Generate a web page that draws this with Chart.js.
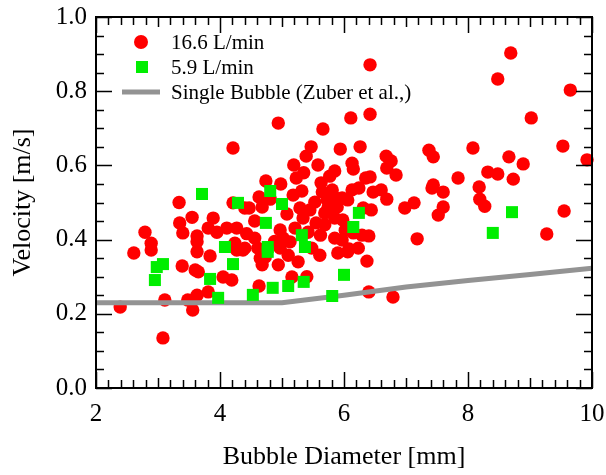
<!DOCTYPE html>
<html>
<head>
<meta charset="utf-8">
<script src="https://cdn.jsdelivr.net/npm/chart.js@4"></script>
<style>
  html, body { margin: 0; padding: 0; background: #fff; }
  #wrap { width: 606px; height: 475px; }
</style>
</head>
<body>
<div id="wrap"><canvas id="chart" width="606" height="475"></canvas></div>
<script>
// 16.6 L/min (red circles)
const redD = [2.39, 3.08, 2.61, 2.79, 2.89, 2.89, 3.34, 3.35, 3.40, 3.39, 3.55, 3.63, 3.63, 3.63, 3.60, 3.65,
  3.56, 3.11, 3.48, 3.63, 3.81, 3.84, 3.89, 3.81, 3.95, 4.11, 4.05, 4.19, 4.27, 4.24, 4.27, 4.37, 4.43,
  4.21, 4.21, 4.40, 4.47, 4.56, 4.56, 4.61, 4.65, 4.68, 4.63, 4.40, 4.73,
  4.94, 5.66, 6.11, 6.42, 5.47, 5.94, 6.26, 5.39, 5.19, 5.58, 6.13, 6.15, 5.85, 5.35, 5.23, 5.77,
  4.74, 4.98, 5.63, 6.35, 5.32, 5.65, 5.81, 6.13, 6.24, 4.63, 4.81, 4.68, 5.53, 5.73, 5.84, 5.97,
  6.06, 5.29, 5.45, 5.74, 5.89, 6.31, 5.08, 5.69,
  4.97, 5.02, 5.13, 4.94, 5.10, 5.26, 5.21, 5.42, 5.48, 5.61, 5.69, 5.85, 5.97, 5.90, 6.06, 6.23,
  5.85, 5.98, 5.16, 4.97, 5.34, 6.29, 5.40, 5.55, 5.62, 6.02, 5.18, 4.88,
  6.15, 6.40, 6.08, 6.37, 6.40, 6.79, 7.18, 6.44, 6.98, 7.52, 8.19, 8.27, 9.55, 9.27, 6.42, 8.69,
  8.48, 9.65, 9.02, 9.53, 9.92, 8.66, 8.89, 8.48, 8.73, 7.37, 7.44, 8.08, 6.68, 6.76, 6.69, 6.84,
  6.42, 8.32, 7.84, 7.44, 7.42, 7.60, 8.18, 6.47, 6.60, 6.69, 7.13, 7.60];
const redV = [0.218, 0.135, 0.364, 0.420, 0.390, 0.372, 0.500, 0.445, 0.418, 0.329, 0.460, 0.410, 0.394, 0.367, 0.318, 0.313,
  0.210, 0.237, 0.237, 0.250, 0.259, 0.356, 0.458, 0.431, 0.420, 0.431, 0.299, 0.291, 0.431, 0.390, 0.372, 0.372, 0.416,
  0.647, 0.499, 0.485, 0.485, 0.450, 0.404, 0.377, 0.350, 0.332, 0.275, 0.377, 0.353,
  0.714, 0.698, 0.728, 0.738, 0.650, 0.644, 0.650, 0.625, 0.601, 0.601, 0.606, 0.590, 0.585, 0.580, 0.566, 0.571,
  0.558, 0.550, 0.553, 0.566, 0.531, 0.528, 0.534, 0.534, 0.539, 0.515, 0.509, 0.488, 0.501, 0.507, 0.515, 0.512,
  0.507, 0.485, 0.480, 0.485, 0.488, 0.485, 0.469, 0.472,
  0.426, 0.404, 0.394, 0.332, 0.358, 0.340, 0.431, 0.420, 0.377, 0.358, 0.440, 0.404, 0.399, 0.364, 0.367, 0.377,
  0.458, 0.453, 0.299, 0.377, 0.458, 0.412, 0.300, 0.445, 0.412, 0.425, 0.520, 0.395,
  0.418, 0.410, 0.375, 0.342, 0.259, 0.245, 0.402, 0.480, 0.485, 0.466, 0.509, 0.490, 0.477, 0.415, 0.871, 0.903,
  0.833, 0.803, 0.728, 0.652, 0.615, 0.623, 0.604, 0.577, 0.563, 0.641, 0.623, 0.647, 0.625, 0.612, 0.593, 0.574,
  0.569, 0.582, 0.566, 0.547, 0.539, 0.528, 0.542, 0.528, 0.534, 0.509, 0.499, 0.488];

// 5.9 L/min (green squares)
const greenD = [3.71, 4.29, 4.81, 5.00, 4.74, 4.08, 4.21, 4.77, 4.77, 5.32, 5.37, 2.98, 3.08, 2.95, 3.84, 3.97,
  4.53, 4.85, 5.10, 5.35, 5.81, 6.00, 6.24, 6.15, 8.40, 8.71];
const greenV = [0.523, 0.499, 0.531, 0.496, 0.445, 0.380, 0.334, 0.380, 0.367, 0.412, 0.380, 0.326, 0.334, 0.291, 0.294, 0.243,
  0.251, 0.270, 0.275, 0.286, 0.248, 0.305, 0.472, 0.434, 0.418, 0.474];

// Single bubble (Zuber et al.)
const zuberD = [2, 5, 6, 7, 8, 9, 10];
const zuberV = [0.23, 0.23, 0.25, 0.272, 0.29, 0.306, 0.323];

const xTicks = [2, 4, 6, 8, 10];
const yTicks = [0.0, 0.2, 0.4, 0.6, 0.8, 1.0];

const pts = (xs, ys) => xs.map((x, i) => ({ x: x, y: ys[i] }));

const SERIF = "'Liberation Serif', 'Times New Roman', serif";
Chart.defaults.font.family = SERIF;
Chart.defaults.color = '#000';

const RED = '#ff0000';
const GREEN = '#00ee00';
const GRAY = '#939393';

// frame, inward ticks on all sides, and the in-plot legend
const framePlugin = {
  id: 'frame',
  afterDraw(chart) {
    const ctx = chart.ctx;
    const a = chart.chartArea;
    const xs = chart.scales.x, ys = chart.scales.y;
    ctx.save();
    ctx.strokeStyle = '#000';
    ctx.lineWidth = 2;
    ctx.strokeRect(a.left, a.top, a.right - a.left, a.bottom - a.top);
    ctx.lineWidth = 1.5;
    ctx.beginPath();
    for (let i = 0; i <= 40; i++) {
      const v = 2 + i * 0.2;
      const p = Math.round(xs.getPixelForValue(v)) + 0.5;
      const len = i % 10 === 0 ? 16 : (i % 5 === 0 ? 10 : 8);
      ctx.moveTo(p, a.bottom); ctx.lineTo(p, a.bottom - len);
      ctx.moveTo(p, a.top); ctx.lineTo(p, a.top + len);
    }
    for (let i = 0; i <= 20; i++) {
      const v = i * 0.05;
      const p = Math.round(ys.getPixelForValue(v)) + 0.5;
      const len = i % 4 === 0 ? 16 : 8;
      ctx.moveTo(a.left, p); ctx.lineTo(a.left + len, p);
      ctx.moveTo(a.right, p); ctx.lineTo(a.right - len, p);
    }
    ctx.stroke();

    // legend
    ctx.font = '21px ' + SERIF;
    ctx.textBaseline = 'middle';
    ctx.textAlign = 'left';
    ctx.fillStyle = RED;
    ctx.beginPath(); ctx.arc(141, 42, 7, 0, Math.PI * 2); ctx.fill();
    ctx.fillStyle = GREEN;
    ctx.fillRect(136, 61, 12, 12);
    ctx.strokeStyle = GRAY;
    ctx.lineWidth = 5;
    ctx.beginPath(); ctx.moveTo(122, 92); ctx.lineTo(160, 92); ctx.stroke();
    ctx.fillStyle = '#000';
    ctx.fillText(chart.data.datasets[2].label, 171, 43);
    ctx.fillText(chart.data.datasets[0].label, 171, 68);
    ctx.fillText(chart.data.datasets[1].label, 171, 93);
    ctx.restore();
  }
};

new Chart(document.getElementById('chart'), {
  type: 'scatter',
  data: {
    datasets: [
      {
        label: '5.9 L/min',
        data: pts(greenD, greenV),
        backgroundColor: GREEN,
        borderWidth: 0,
        pointStyle: 'rect',
        pointRadius: 8.5,
        clip: false,
        order: 0
      },
      {
        label: 'Single Bubble (Zuber et al.,)',
        data: pts(zuberD, zuberV),
        showLine: true,
        borderColor: GRAY,
        borderWidth: 5,
        pointRadius: 0,
        tension: 0,
        order: 1
      },
      {
        label: '16.6 L/min',
        data: pts(redD, redV),
        backgroundColor: RED,
        borderWidth: 0,
        pointRadius: 6.7,
        clip: false,
        order: 2
      }
    ]
  },
  options: {
    responsive: false,
    animation: false,
    events: [],
    layout: { padding: { top: 17, right: 14, left: 0, bottom: 0 } },
    plugins: { legend: { display: false }, tooltip: { enabled: false } },
    scales: {
      x: {
        type: 'linear',
        min: 2, max: 10,
        afterBuildTicks: (s) => { s.ticks = xTicks.map(v => ({ value: v })); },
        afterFit: (s) => { s.height = 87; s.paddingLeft = 0; s.paddingRight = 0; },
        grid: { display: false, drawTicks: false },
        border: { display: false },
        ticks: { font: { size: 25 }, color: '#000', padding: 11, maxRotation: 0 },
        title: { display: true, text: 'Bubble Diameter [mm]', font: { size: 26 }, color: '#000', padding: { top: 0, bottom: 2 } }
      },
      y: {
        type: 'linear',
        min: 0, max: 1,
        afterBuildTicks: (s) => { s.ticks = yTicks.map(v => ({ value: v })); },
        afterFit: (s) => { s.width = 96; s.paddingTop = 0; s.paddingBottom = 0; },
        grid: { display: false, drawTicks: false },
        border: { display: false },
        ticks: { font: { size: 25 }, color: '#000', padding: 9, callback: (v) => Number(v).toFixed(1) },
        title: { display: true, text: 'Velocity [m/s]', font: { size: 26 }, color: '#000', padding: { top: 8, bottom: 0 } }
      }
    }
  },
  plugins: [framePlugin]
});
</script>
</body>
</html>
